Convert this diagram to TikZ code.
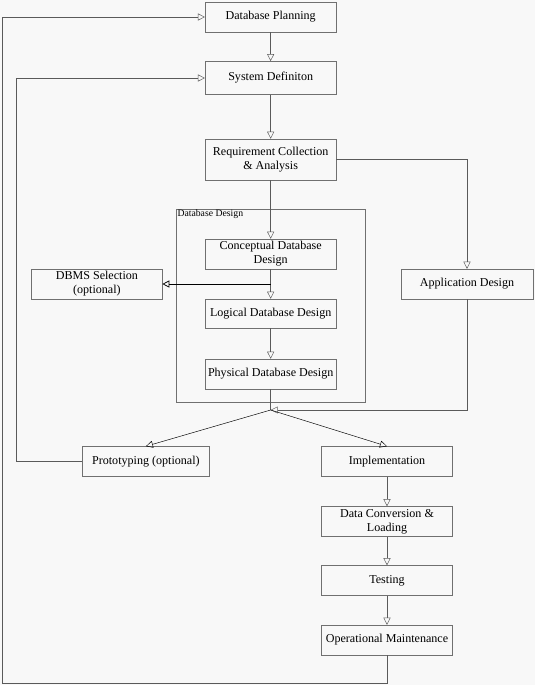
\documentclass[tikz,border=0pt]{standalone}
\usepackage{fontspec}
\setmainfont{Liberation Serif}
\usepackage{tikz}
\usetikzlibrary{positioning,arrows.meta,calc}
\definecolor{mLine}{HTML}{5A5A5A}
\definecolor{mBox}{HTML}{707070}
\definecolor{mBg}{HTML}{F8F8F8}

\begin{document}
\begin{tikzpicture}[font=\fontsize{10.3}{12}\selectfont,
  stage/.style={draw=mBox, thin, minimum width=3.93cm, minimum height=0.9cm, align=center, inner sep=1pt},
  flow/.style={-{Triangle[open, length=6pt, width=6pt]}, mLine, thin}]
\useasboundingbox[fill=mBg] (0,0) rectangle (16.05,-20.55);
\node[draw=mBox, thin, minimum width=5.67cm, minimum height=5.79cm, inner sep=0pt] (dbdesign) at (8.125,-9.165) {};
\node[font=\fontsize{8.3}{9}\selectfont, anchor=north west, inner sep=1pt] (dblabel) at (dbdesign.north west) {Database Design};
\node[stage] (plan) at (8.12,-0.51) {Database Planning};
\node[stage, minimum height=1.0cm] (sysdef) at (8.12,-2.34) {System Definiton};
\node[stage, minimum height=1.23cm] (req) at (8.12,-4.785) {Requirement Collection\\ \& Analysis};
\node[stage] (concept) at (8.12,-7.62) {Conceptual Database\\ Design};
\node[stage, minimum height=0.87cm] (logical) at (8.12,-9.405) {Logical Database Design};
\node[stage] (physical) at (8.12,-11.22) {Physical Database Design};
\node[stage, minimum width=3.91cm] (dbms) at (2.907,-8.52) {DBMS Selection\\ (optional)};
\node[stage, minimum width=3.97cm] (appdes) at (14.01,-8.52) {Application Design};
\node[stage, minimum width=3.82cm] (proto) at (4.377,-13.845) {Prototyping (optional)};
\node[stage] (impl) at (11.61,-13.845) {Implementation};
\node[stage] (conv) at (11.61,-15.645) {Data Conversion \&\\ Loading};
\node[stage] (test) at (11.61,-17.415) {Testing};
\node[stage] (maint) at (11.61,-19.2) {Operational Maintenance};
\coordinate (split) at (8.12,-8.52);
\coordinate (jn) at (8.12,-12.3);
\coordinate (outer) at (0.08,-20.49);
\coordinate (inner) at (0.49,-2.34);
\draw[flow] (plan) -- (sysdef);
\draw[flow] (sysdef) -- (req);
\draw[flow] (req) -- (concept);
\draw[flow] (concept) -- (logical);
\draw[flow] (logical) -- (physical);
\draw[flow, black, semithick] (split) -- (dbms);
\draw[flow] (req.east) -| (appdes.north);
\draw[mLine, thin] (physical.south) -- (jn);
\draw[flow] (appdes.south) |- (jn);
\draw[flow, black] (jn) -- (proto.north);
\draw[flow, black] (jn) -- (impl.north);
\draw[flow] (impl) -- (conv);
\draw[flow] (conv) -- (test);
\draw[flow] (test) -- (maint);
\draw[flow] (maint.south) |- (outer) |- (plan.west);
\draw[flow] (proto.west) -| (inner) -- (sysdef.west);
\end{tikzpicture}
\end{document}
